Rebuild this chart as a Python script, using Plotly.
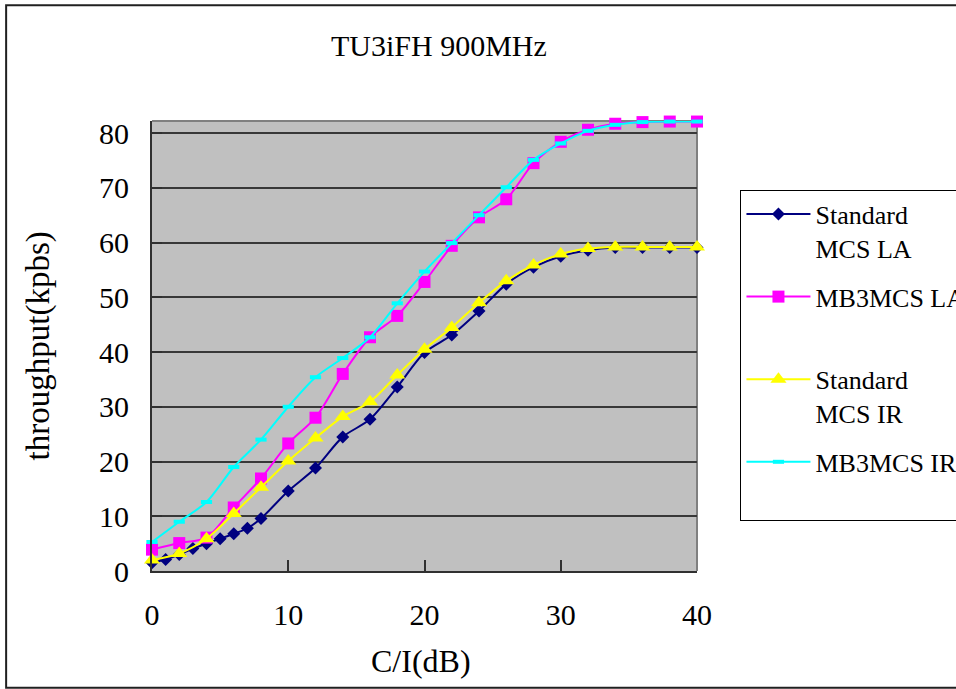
import plotly.graph_objects as go

# ---- data ----
x_std_la = [0, 1, 2, 3, 4, 5, 6, 7, 8, 10, 12, 14, 16, 18, 20, 22, 24, 26, 28, 30, 32, 34, 36, 38, 40]
y_std_la = [1.5, 2.1, 3.0, 4.1, 5.0, 5.9, 6.8, 7.8, 9.6, 14.6, 18.8, 24.5, 27.7, 33.6, 39.9,
            43.1, 47.5, 52.4, 55.5, 57.5, 58.6, 59.1, 59.1, 59.1, 59.1]

x_even = [0, 2, 4, 6, 8, 10, 12, 14, 16, 18, 20, 22, 24, 26, 28, 30, 32, 34, 36, 38, 40]
y_mb3_la = [3.9, 5.1, 6.1, 11.6, 16.9, 23.3, 28.0, 36.0, 42.7, 46.6, 52.8,
            59.4, 64.6, 67.9, 74.5, 78.4, 80.6, 81.7, 82.0, 82.1, 82.1]
y_std_ir = [2.0, 3.2, 5.9, 10.5, 15.3, 20.1, 24.3, 28.2, 30.9, 35.8, 40.5,
            44.5, 49.0, 53.0, 55.9, 57.9, 58.9, 59.2, 59.2, 59.2, 59.2]
y_mb3_ir = [5.3, 9.0, 12.6, 19.0, 24.0, 30.0, 35.4, 38.9, 42.7, 48.9, 54.7,
            59.9, 65.0, 70.1, 75.1, 78.1, 80.4, 81.5, 82.0, 82.1, 82.1]

names = ["Standard<br>MCS LA", "MB3MCS LA<br> ", "Standard<br>MCS IR", "MB3MCS IR<br> "]
colors = ["#000080", "#FF00FF", "#FFFF00", "#00FFFF"]

x_ticks = [0, 10, 20, 30, 40]
y_ticks = [0, 10, 20, 30, 40, 50, 60, 70, 80]

title_text = "TU3iFH 900MHz"
x_title = "C/I(dB)"
y_title = "throughput(kpbs)"

FONT = "Liberation Serif"

fig = go.Figure()
series = [
    (x_std_la, y_std_la, dict(symbol="diamond", size=10, color=colors[0])),
    (x_even, y_mb3_la, dict(symbol="square", size=12, color=colors[1])),
    (x_even, y_std_ir, dict(symbol="triangle-up", size=14, color=colors[2])),
    (x_even, y_mb3_ir, dict(symbol="line-ew", size=8, color=colors[3],
                             line=dict(color=colors[3], width=4))),
]
for i, (xs, ys, mk) in enumerate(series):
    fig.add_trace(go.Scatter(
        x=xs, y=ys, name=names[i], mode="lines+markers",
        line=dict(color=colors[i], width=2, shape="spline", smoothing=0.8),
        marker=mk, cliponaxis=False, legendgroup=f"g{i}",
    ))

L, R, T, B = 152, 697.5, 120.7, 570.7
W, H = 956, 689
pw, ph = R - L, B - T

def px_x(p):
    return (p - L) / pw

def px_y(p):
    return (B - p) / ph

fig.update_layout(
    width=W, height=H,
    margin=dict(l=L, r=W - R, t=T, b=H - B, pad=0, autoexpand=False),
    paper_bgcolor="white",
    plot_bgcolor="#C0C0C0",
    font=dict(family=FONT, size=30, color="black"),
    showlegend=True,
    legend=dict(
        x=px_x(741), y=px_y(189.3), xanchor="left", yanchor="top",
        bgcolor="white", bordercolor="black", borderwidth=1,
        font=dict(family=FONT, size=26, color="black"),
        valign="top", tracegroupgap=12, itemwidth=64,
        entrywidth=300, entrywidthmode="pixels",
    ),
    xaxis=dict(
        range=[0, 40], tickvals=x_ticks, ticktext=[str(v) for v in x_ticks],
        showgrid=False, zeroline=False,
        showline=True, linecolor="#303030", linewidth=2,
        ticks="inside", ticklen=11, tickwidth=2, tickcolor="#303030",
        ticklabelstandoff=16,
        tickfont=dict(family=FONT, size=30, color="black"),
    ),
    yaxis=dict(
        range=[0, 82.2], tickvals=y_ticks, ticktext=[str(v) for v in y_ticks],
        showgrid=True, gridcolor="#383838", gridwidth=1.5, zeroline=False,
        showline=True, linecolor="#303030", linewidth=2,
        ticks="inside", ticklen=10, tickwidth=2, tickcolor="#303030",
        ticklabelstandoff=15,
        tickfont=dict(family=FONT, size=30, color="black"),
    ),
    shapes=[
        # plot area top/right border
        dict(type="line", xref="paper", yref="paper", x0=0, x1=1, y0=1, y1=1,
             line=dict(color="#808080", width=2), layer="between"),
        dict(type="line", xref="paper", yref="paper", x0=1, x1=1, y0=0, y1=1,
             line=dict(color="#808080", width=2), layer="between"),
        # outer chart border
        dict(type="rect", xref="paper", yref="paper",
             x0=px_x(6), x1=px_x(1010), y0=px_y(687.5), y1=px_y(5),
             line=dict(color="#202020", width=2), fillcolor="rgba(0,0,0,0)", layer="above"),
    ],
    annotations=[
        dict(text=title_text, xref="paper", yref="paper", x=px_x(439), y=px_y(45),
             xanchor="center", yanchor="middle", showarrow=False,
             font=dict(family=FONT, size=30, color="black")),
        dict(text=x_title, xref="paper", yref="paper", x=px_x(421), y=px_y(661),
             xanchor="center", yanchor="middle", showarrow=False,
             font=dict(family=FONT, size=32, color="black")),
        dict(text=y_title, xref="paper", yref="paper", x=px_x(38), y=px_y(346),
             xanchor="center", yanchor="middle", showarrow=False, textangle=-90,
             font=dict(family=FONT, size=33, color="black")),
    ],
)

fig.write_html("out.html", config={"displayModeBar": False},
               post_script="document.body.style.margin='0';")
